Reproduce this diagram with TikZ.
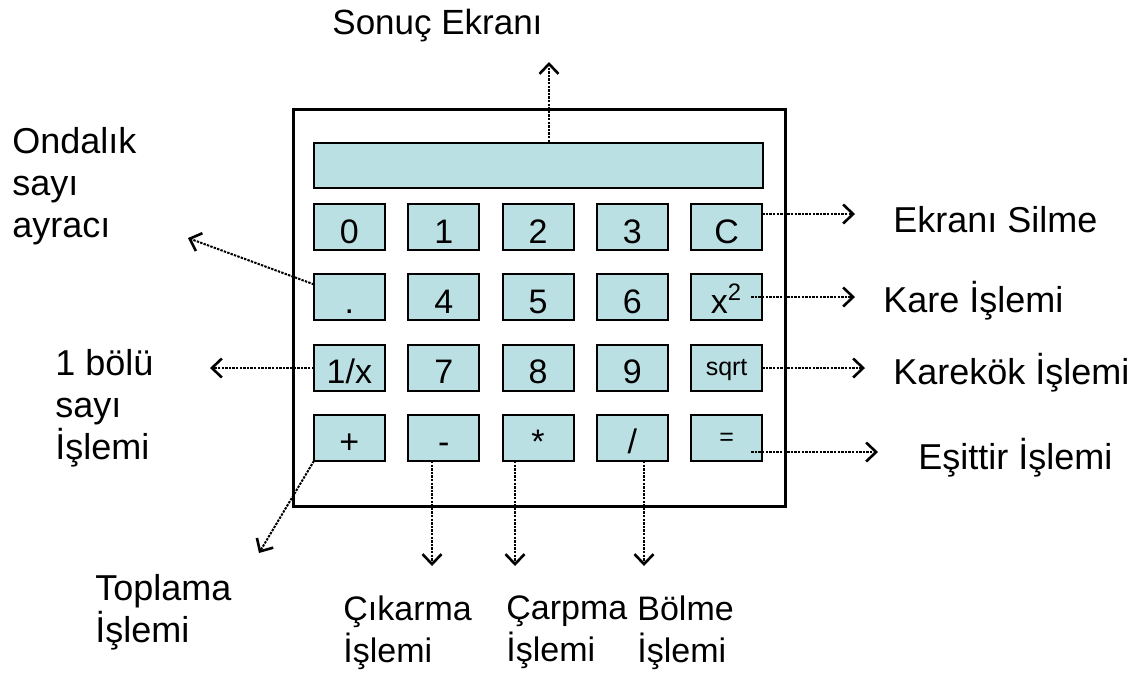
\documentclass[tikz,border=0pt]{standalone}
\usepackage{fontspec}
\setmainfont{Liberation Sans}
\usepackage{tikz}
\usetikzlibrary{matrix,arrows.meta,calc,positioning}
\definecolor{btnfill}{RGB}{187,224,227}

\begin{document}
\begin{tikzpicture}[x=0.5pt, y=-0.5pt,
btn/.style={draw, line width=1pt, fill=btnfill, minimum width=35.5pt, minimum height=23pt,
  inner xsep=0pt, inner ysep=3.5pt, text height=16pt, text depth=0pt, outer sep=0pt, anchor=center,
  font=\fontsize{17}{17}\selectfont},
small/.style={font=\fontsize{12.5}{12.5}\selectfont, text height=12pt, text depth=4pt},
screen/.style={draw, line width=1pt, fill=btnfill, minimum width=224.5pt, minimum height=22.5pt, inner sep=0pt},
body/.style={line width=1.5pt},
callout/.style={line width=1pt, dash pattern=on 1.2pt off 0.6pt,
  -{Straight Barb[length=5pt,width=9.5pt,line width=1.3pt]}},
lbl/.style={inner sep=0pt, align=left, font=\fontsize{18}{21}\selectfont},
stack/.style={lbl, anchor=north west, execute at begin node=\strut},
lowstack/.style={stack, font=\fontsize{17}{21}\selectfont}]
\useasboundingbox (0,0) rectangle (1133,677);

\matrix (m)
[matrix of nodes,
nodes={btn},
row sep=11.15pt,
column sep=10.65pt,
inner sep=0pt,
outer sep=0pt] at (538,332.5)
{
	0 & 1 & 2 & 3 & C \\
	. & 4 & 5 & 6 & x\textsuperscript{2} \\
	1/x & 7 & 8 & 9 & |[small]| sqrt \\
	+ & - & * & / & |[small]| = \\
};
\node[screen, above=7pt of m] (scr) {};
\draw[body] ([shift={(-19.5,-32.5)}]scr.north west) rectangle ([shift={(22,45)}]m.south east);

\node[lbl, anchor=base west, font=\fontsize{17.5}{21}\selectfont] (sonuc) at (332,34) {Sonuç Ekranı};
\node[stack] (ondalik) at (12,126.6) {Ondalık\\sayı\\ayracı};
\node[stack] (bolu) at (55,348.6) {1 bölü\\sayı\\İşlemi};
\node[stack] (topla) at (95,573.6) {Toplama\\İşlemi};
\node[lowstack] (cikar) at (343,595.6) {Çıkarma\\İşlemi};
\node[lowstack] (carp) at (506,595.6) {Çarpma\\İşlemi};
\node[lowstack] (bolme) at (637,595.6) {Bölme\\İşlemi};
\node[lbl, anchor=base west] (silme) at (893,232) {Ekranı Silme};
\node[lbl, anchor=base west] (kare) at (883,312) {Kare İşlemi};
\node[lbl, anchor=base west] (karekok) at (893,384) {Karekök İşlemi};
\node[lbl, anchor=base west] (esit) at (918,469) {Eşittir İşlemi};

\coordinate (tip-sonuc) at (549,62);
\coordinate (tip-silme) at (855,214);
\coordinate (tip-kare) at (855,297);
\coordinate (tip-karekok) at (865,368);
\coordinate (tip-esit) at (878,452);
\coordinate (tip-ondalik) at (188,238);
\coordinate (tip-bolu) at (210,368);
\coordinate (tip-topla) at (259,553);
\coordinate (tip-cikar) at (432,566);
\coordinate (tip-carp) at (515,566);
\coordinate (tip-bolme) at (644,566);

\draw[callout] (scr.north -| tip-sonuc) -- (tip-sonuc);
\draw[callout] (tip-silme -| m-1-5.east) -- (tip-silme);
\draw[callout] ($(tip-kare -| m-2-5.east)+(-11,0)$) -- (tip-kare);
\draw[callout] (tip-karekok -| m-3-5.east) -- (tip-karekok);
\draw[callout] ($(tip-esit -| m-4-5.east)+(-11,0)$) -- (tip-esit);
\draw[callout] ($(m-2-1.west)+(0,-13)$) -- (tip-ondalik);
\draw[callout] (tip-bolu -| m-3-1.west) -- (tip-bolu);
\draw[callout] (m-4-1.south west) -- (tip-topla);
\draw[callout] (tip-cikar |- m-4-2.south) -- (tip-cikar);
\draw[callout] (tip-carp |- m-4-3.south) -- (tip-carp);
\draw[callout] (tip-bolme |- m-4-4.south) -- (tip-bolme);
\end{tikzpicture}
\end{document}
